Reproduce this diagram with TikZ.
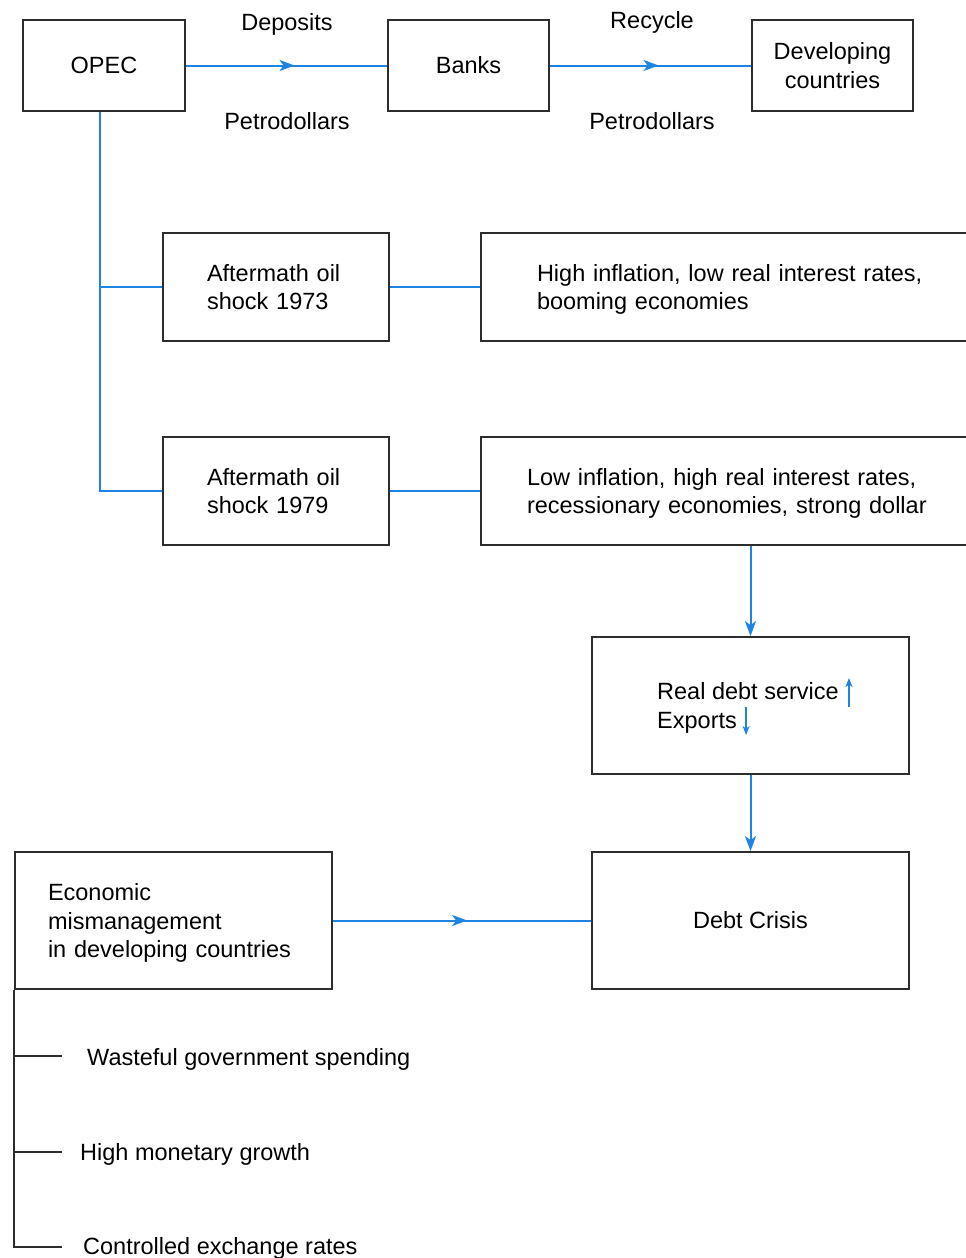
\documentclass[tikz,border=0pt]{standalone}
\usepackage{fontspec}
\setmainfont{Liberation Sans}
\usetikzlibrary{arrows.meta,decorations.markings,calc}
\definecolor{lb}{RGB}{30,132,228}
\definecolor{bx}{RGB}{45,45,45}
\newcommand{\nodepth}[1]{\raisebox{0pt}[\height][0pt]{#1}}
\tikzset{
  txt/.style={font=\fontsize{23.5}{28.5}\selectfont},
  box/.style={draw=bx, line width=1.8pt, rectangle, inner sep=0pt, txt},
  lbox/.style={box, align=left},
  conn/.style={draw=lb, color=lb, line width=2pt},
  midarrow/.style={conn, postaction={decorate}, decoration={markings, mark=at position #1 with {\arrow{Stealth[length=15pt,width=11pt,inset=4pt]}}}},
  endarrow/.style={conn, -{Stealth[length=15pt,width=11pt,inset=4pt]}},
  smallarrow/.style={conn, line width=1.8pt, -{Stealth[length=9pt,width=7pt,inset=2.5pt]}},
  lbl/.style={txt, inner sep=0pt},
  tree/.style={draw=bx, line width=1.8pt},
}
\begin{document}
\begin{tikzpicture}[x=1pt,y=-1pt]
\useasboundingbox (0,0) rectangle (966,1258);
\clip (0,0) rectangle (966,1258);
\fill[white] (0,0) rectangle (966,1258);

% top row
\node[box, minimum width=162, minimum height=91] (opec) at (104,65.5) {OPEC};
\node[box, minimum width=161, minimum height=91] (banks) at (468.5,65.5) {Banks};
\node[box, minimum width=161, minimum height=91, align=center] (dev) at (832.5,65.5) {Developing\\countries};

\draw[midarrow=0.54] (opec) -- (banks);
\draw[midarrow=0.54] (banks) -- (dev);

\node[lbl, anchor=base] (dep) at (287,30) {Deposits};
\node[lbl, anchor=base] (pd1) at (287,129) {Petrodollars};
\node[lbl, anchor=base] (rec) at (652,28) {Recycle};
\node[lbl, anchor=base] (pd2) at (652,129) {Petrodollars};

% oil shock rows
\node[lbox, minimum width=226, minimum height=108, text width=138, inner xsep=44] (a73) at (276,287) {Aftermath oil\\shock 1973};
\node[lbox, minimum width=519, minimum height=108, text width=407, inner xsep=56] (h73) at (740.5,287) {High inflation, low real interest rates,\\\nodepth{booming economies}};
\node[lbox, minimum width=226, minimum height=108, text width=138, inner xsep=44] (a79) at (276,491) {Aftermath oil\\shock 1979};
\node[lbox, minimum width=519, minimum height=108, text width=427, inner xsep=46] (l79) at (740.5,491) {Low inflation, high real interest rates,\\\nodepth{recessionary economies, strong dollar}};

\coordinate (opecb) at ($(opec.south)+(-4,0)$);
\draw[conn] (opecb) |- (a73.west);
\draw[conn] (opecb) |- (a79.west);
\draw[conn] (a73) -- (h73);
\draw[conn] (a79) -- (l79);

% real debt service
\node[box, minimum width=317, minimum height=137] (rd) at (750.5,705.5) {};
\node[lbl, anchor=base west] (rds) at (657,699) {Real debt service};
\node[lbl, anchor=base west] (exp) at (657,728) {Exports};
\draw[smallarrow] ($(rds.base east)+(10,8)$) -- ($(rds.base east)+(10,-21)$);
\draw[smallarrow] ($(exp.base east)+(9,-21)$) -- ($(exp.base east)+(9,7)$);

\draw[endarrow] (rd.north |- l79.south) -- (rd.north);

% debt crisis
\node[box, minimum width=317, minimum height=137] (dc) at (750.5,920.5) {Debt Crisis};
\draw[endarrow] (rd.south) -- (dc.north);

\node[lbox, minimum width=317, minimum height=137, text width=251] (em) at (173.5,920.5) {Economic\\mismanagement\\\nodepth{in developing countries}};
\draw[midarrow=0.52] (em) -- (dc);

% causes
\node[lbl, anchor=base west] (c1) at (87,1065) {Wasteful government spending};
\node[lbl, anchor=base west] (c2) at (80,1160) {High monetary growth};
\node[lbl, anchor=base west] (c3) at (83,1254) {Controlled exchange rates};
\coordinate (b1) at (62,1056);
\coordinate (b2) at (62,1152);
\coordinate (b3) at (62,1247);
\draw[tree] (em.south west) |- (b3);
\draw[tree] (em.south west |- b1) -- (b1);
\draw[tree] (em.south west |- b2) -- (b2);
\end{tikzpicture}
\end{document}
